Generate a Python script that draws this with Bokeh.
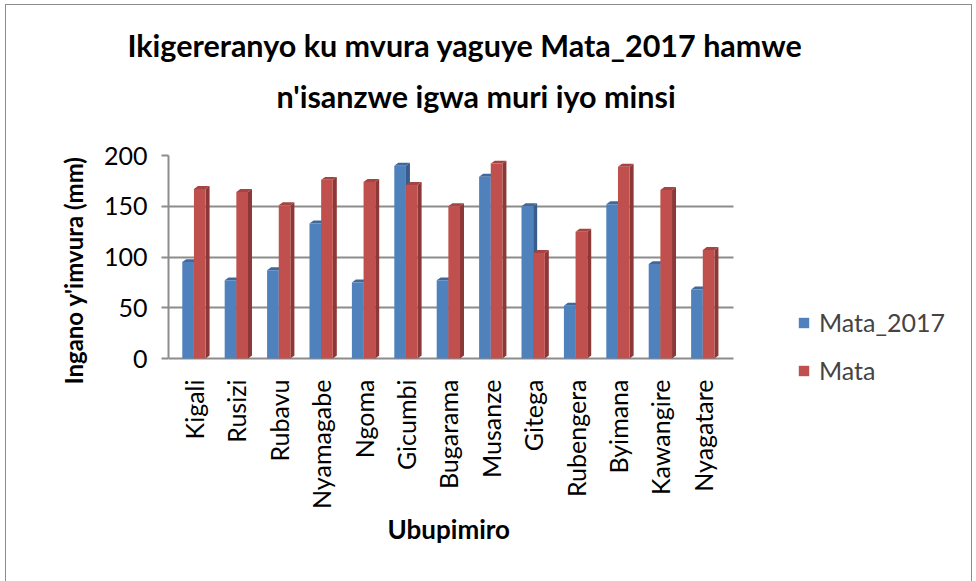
import math
from bokeh.plotting import figure
from bokeh.models import Range1d, FixedTicker, Title, Legend, LegendItem, ColumnDataSource
from bokeh.embed import file_html
from bokeh.resources import INLINE

# ---- data ----
stations = ["Kigali", "Rusizi", "Rubavu", "Nyamagabe", "Ngoma", "Gicumbi", "Bugarama",
            "Musanze", "Gitega", "Rubengera", "Byimana", "Kawangire", "Nyagatare"]
mata_2017 = [95, 77, 87, 133, 75, 190, 77, 179, 150, 52, 152, 93, 68]
mata = [167, 164, 151, 176, 174, 171, 150, 192, 104, 125, 189, 166, 107]
y_ticks = [0, 50, 100, 150, 200]

title_1 = "Ikigereranyo ku mvura yaguye Mata_2017 hamwe"
title_2 = "n'isanzwe igwa muri iyo minsi"
x_title = "Ubupimiro"
y_title = "Ingano y'imvura (mm)"

FONT = "Lato"
GRAY = "#8c8c8c"
BLUE, BLUE_SIDE, BLUE_TOP = "#4F81BD", "#385D8A", "#41689A"
RED, RED_SIDE, RED_TOP = "#C0504D", "#8C3836", "#A64441"

X0, X1 = -0.6, 12.73          # extent of the category axis
XR = (X0, 17.96)              # visible x range (right part holds the legend)
YR = (-26.6, 200)

W, H = 965, 576
p = figure(width=W, height=H, output_backend="svg", toolbar_location=None,
           x_range=Range1d(*XR), y_range=Range1d(*YR),
           min_border_left=162, min_border_right=16, min_border_top=150, min_border_bottom=196)
p.styles = {"margin-left": "6px", "margin-top": "5px", "outline": f"1px solid {GRAY}"}
p.outline_line_color = None
p.background_fill_color = "white"

bw = 0.275      # bar width (x units)
dx = 0.094      # depth offset x (x units)
dy = 2.9        # depth offset y (data units)

def bars(vals, offset, face, side, top):
    xs_c = [i + offset for i in range(len(vals))]
    src = ColumnDataSource(dict(left=[x - bw / 2 for x in xs_c],
                                right=[x + bw / 2 for x in xs_c], top=vals))
    sx, sy, tx, ty = [], [], [], []
    for xc, v in zip(xs_c, vals):
        xl, xr = xc - bw / 2, xc + bw / 2
        sx.append([xr, xr + dx, xr + dx, xr]); sy.append([0, dy, v + dy, v])
        tx.append([xl, xl + dx, xr + dx, xr]); ty.append([v, v + dy, v + dy, v])
    p.patches(sx, sy, fill_color=side, line_color=None)
    p.patches(tx, ty, fill_color=top, line_color=None)
    return p.quad(left="left", right="right", top="top", bottom=0, source=src,
                  fill_color=face, line_color=None)

r1 = bars(mata_2017, -bw / 2, BLUE, BLUE_SIDE, BLUE_TOP)
r2 = bars(mata, bw / 2, RED, RED_SIDE, RED_TOP)

# x axis (category labels)
p.xaxis.ticker = FixedTicker(ticks=list(range(len(stations))))
p.xaxis.major_label_overrides = {i: s for i, s in enumerate(stations)}
p.xaxis.major_label_orientation = math.pi / 2
p.xaxis.bounds = (X0, X1)
p.xaxis.major_tick_line_color = None
p.xaxis.minor_tick_line_color = None
p.xaxis.axis_line_color = None
p.xaxis.major_label_standoff = -12
p.xaxis.major_label_text_font = FONT
p.xaxis.major_label_text_font_size = "25px"
p.xaxis.major_label_text_color = "black"

# y axis
p.yaxis.ticker = FixedTicker(ticks=y_ticks)
p.yaxis.bounds = (0, 200)
p.yaxis.axis_line_color = GRAY
p.yaxis.axis_line_width = 2
p.yaxis.major_tick_line_color = GRAY
p.yaxis.major_tick_line_width = 2
p.yaxis.major_tick_out = 7
p.yaxis.major_tick_in = 0
p.yaxis.minor_tick_line_color = None
p.yaxis.major_label_standoff = 14
p.yaxis.major_label_text_font = FONT
p.yaxis.major_label_text_font_size = "25px"
p.yaxis.major_label_text_color = "black"
p.yaxis.axis_label = y_title
p.yaxis.axis_label_standoff = 13
p.yaxis.axis_label_text_font = FONT
p.yaxis.axis_label_text_font_size = "24px"
p.yaxis.axis_label_text_font_style = "bold"
p.yaxis.axis_label_text_color = "black"

p.xgrid.grid_line_color = None
p.ygrid.ticker = FixedTicker(ticks=y_ticks)
p.ygrid.cross_bounds = (X0, X1)
p.ygrid.grid_line_color = GRAY
p.ygrid.grid_line_width = 2

# titles: added nearest-first
p.add_layout(Title(text=title_2, align="left", offset=108, standoff=84,
                   text_font=FONT, text_font_size="30.5px", text_font_style="bold",
                   text_color="black"), "above")
p.add_layout(Title(text=title_1, align="left", offset=-41, standoff=-58,
                   text_font=FONT, text_font_size="30.5px", text_font_style="bold",
                   text_color="black"), "above")

# x-axis title, placed under the category labels
p.add_layout(Title(text=x_title, align="left", offset=219, standoff=-2,
                   text_font=FONT, text_font_size="26px", text_font_style="bold",
                   text_color="black"), "below")

legend = Legend(items=[LegendItem(label="Mata_2017", renderers=[r1]),
                       LegendItem(label="Mata", renderers=[r2])],
                location=(629, 0), padding=0, spacing=18, margin=0,
                glyph_width=13, glyph_height=13, label_height=25,
                label_standoff=9, label_text_font=FONT, label_text_font_size="25px",
                border_line_color=None, background_fill_alpha=0)
p.add_layout(legend, "center")

open("out.html", "w").write(file_html(p, INLINE))
